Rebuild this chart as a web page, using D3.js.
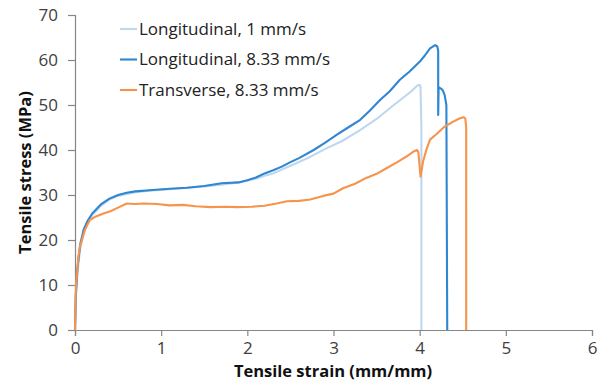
<!DOCTYPE html>
<html>
<head>
<meta charset="utf-8">
<script src="https://cdn.jsdelivr.net/npm/d3@7"></script>
<style>
  body { margin: 0; background: #fff; }
  svg text { font-family: "Open Sans", "Noto Sans", sans-serif; }
</style>
</head>
<body>
<div id="chart"></div>
<script>
// 인장 시험 곡선 데이터
var xTicks = [0, 1, 2, 3, 4, 5, 6];
var yTicks = [0, 10, 20, 30, 40, 50, 60, 70];
var seriesNames = ["Longitudinal, 1 mm/s", "Longitudinal, 8.33 mm/s", "Transverse, 8.33 mm/s"];
var seriesColors = ["#bdd7ee", "#2f86d2", "#f7934a"];

// Longitudinal, 1 mm/s
var strainL1 = [0, 0.01, 0.03, 0.06, 0.1, 0.15, 0.2, 0.3, 0.4, 0.5, 0.7, 0.9, 1.1, 1.3, 1.5, 1.7, 1.9, 2.1, 2.2, 2.3, 2.5, 2.7, 2.9, 3.1, 3.3, 3.5, 3.7, 3.9, 3.97, 4.0, 4.01, 4.02, 4.02];
var stressL1 = [0, 7, 13, 18, 21.5, 23.8, 25.5, 27.6, 29.0, 29.8, 30.6, 31.0, 31.3, 31.6, 31.9, 32.3, 32.8, 33.6, 34.3, 34.8, 36.5, 38.2, 40.2, 42.0, 44.3, 46.9, 50.0, 53.0, 54.3, 54.5, 54.0, 45, 0];

// Longitudinal, 8.33 mm/s
var strainL8 = [0, 0.01, 0.03, 0.06, 0.1, 0.15, 0.2, 0.3, 0.4, 0.5, 0.6, 0.7, 0.9, 1.1, 1.3, 1.5, 1.7, 1.9, 2.0, 2.1, 2.2, 2.3, 2.4, 2.5, 2.6, 2.77, 2.9, 3.04, 3.17, 3.31, 3.42, 3.54, 3.65, 3.77, 3.88, 4.0, 4.06, 4.12, 4.18, 4.205, 4.215, 4.215, 4.22, 4.25, 4.27, 4.29, 4.31, 4.32];
var stressL8 = [0, 8, 14, 19, 22.3, 24.4, 25.9, 27.9, 29.2, 30.0, 30.5, 30.8, 31.1, 31.4, 31.6, 32.0, 32.6, 32.8, 33.3, 33.9, 34.8, 35.5, 36.3, 37.3, 38.2, 40.0, 41.6, 43.4, 45.0, 46.7, 48.7, 51.1, 53.0, 55.6, 57.4, 59.6, 61.0, 62.6, 63.3, 63.0, 62.0, 47.8, 54.0, 53.6, 53.2, 52.2, 50, 0];

// Transverse, 8.33 mm/s
var strainT8 = [0, 0.008, 0.012, 0.04, 0.058, 0.077, 0.116, 0.174, 0.25, 0.33, 0.41, 0.5, 0.6, 0.7, 0.8, 0.95, 1.1, 1.25, 1.4, 1.57, 1.75, 1.88, 2.05, 2.2, 2.34, 2.46, 2.6, 2.73, 2.88, 3.0, 3.11, 3.25, 3.38, 3.5, 3.62, 3.74, 3.85, 3.94, 3.97, 3.985, 4.01, 4.04, 4.08, 4.12, 4.2, 4.29, 4.38, 4.46, 4.51, 4.53, 4.54, 4.54];
var stressT8 = [0, 7.5, 10.1, 16.4, 18.6, 19.8, 22.3, 24.5, 25.3, 25.9, 26.4, 27.2, 28.1, 28.0, 28.1, 28.0, 27.7, 27.8, 27.5, 27.3, 27.4, 27.3, 27.4, 27.6, 28.1, 28.6, 28.7, 29.0, 29.8, 30.3, 31.5, 32.5, 33.8, 34.7, 36.0, 37.3, 38.6, 39.8, 40.0, 39.5, 34.1, 37.5, 40.2, 42.3, 43.6, 45.2, 46.2, 47.0, 47.3, 47.0, 45, 0];

var seriesX = [strainL1, strainL8, strainT8];
var seriesY = [stressL1, stressL8, stressT8];

////////////////////////////////////////////////////////////////////////////////////////
// 차트 그리기
////////////////////////////////////////////////////////////////////////////////////////
var W = 607, H = 391;
var margin = {top: 15, right: 15, bottom: 61, left: 75};

var svg = d3.select("#chart").append("svg")
  .attr("width", W).attr("height", H);

var x = d3.scaleLinear().domain([0, 6]).range([margin.left, W - margin.right]);
var y = d3.scaleLinear().domain([0, 70]).range([H - margin.bottom, margin.top]);

var axisColor = "#868686";
var labelColor = "#404040";

var xAxis = svg.append("g")
  .attr("transform", "translate(0," + y(0) + ")")
  .call(d3.axisBottom(x).tickValues(xTicks).tickFormat(d3.format("d")).tickSizeOuter(0).tickSize(6).tickPadding(6));

var yAxis = svg.append("g")
  .attr("transform", "translate(" + x(0) + ",0)")
  .call(d3.axisLeft(y).tickValues(yTicks).tickFormat(d3.format("d")).tickSizeOuter(0).tickSize(7).tickPadding(10));

[xAxis, yAxis].forEach(function (g) {
  g.select(".domain").attr("stroke", axisColor).attr("stroke-width", 1.2);
  g.selectAll(".tick line").attr("stroke", axisColor).attr("stroke-width", 1.2);
  g.selectAll(".tick text")
    .attr("fill", labelColor)
    .style("font-size", "17px")
    .style("font-family", "'Open Sans', sans-serif");
});

// 곡선 (직선 연결)
var line = d3.line()
  .x(function (d) { return x(d[0]); })
  .y(function (d) { return y(d[1]); });

seriesX.forEach(function (xs, i) {
  var pts = xs.map(function (v, j) { return [v, seriesY[i][j]]; });
  svg.append("path")
    .datum(pts)
    .attr("d", line)
    .attr("fill", "none")
    .attr("stroke", seriesColors[i])
    .attr("stroke-width", 2.1)
    .attr("stroke-linejoin", "round");
});

// 축 제목
svg.append("text")
  .attr("x", 333)
  .attr("y", 377)
  .attr("text-anchor", "middle")
  .style("font-size", "16.5px")
  .style("font-weight", "bold")
  .attr("fill", "#111")
  .text("Tensile strain (mm/mm)");

svg.append("text")
  .attr("transform", "translate(31," + (y(35)) + ") rotate(-90)")
  .attr("text-anchor", "middle")
  .style("font-size", "16.5px")
  .style("font-weight", "bold")
  .attr("fill", "#111")
  .text("Tensile stress (MPa)");

// 범례
var legend = svg.append("g");
seriesNames.forEach(function (name, i) {
  var ly = 29 + i * 30.5;
  legend.append("line")
    .attr("x1", 120).attr("x2", 137)
    .attr("y1", ly).attr("y2", ly)
    .attr("stroke", seriesColors[i])
    .attr("stroke-width", 2.1);
  legend.append("text")
    .attr("x", 139).attr("y", ly)
    .attr("dy", "0.35em")
    .style("font-size", "17px")
    .attr("fill", "#222")
    .text(name);
});
</script>
</body>
</html>
